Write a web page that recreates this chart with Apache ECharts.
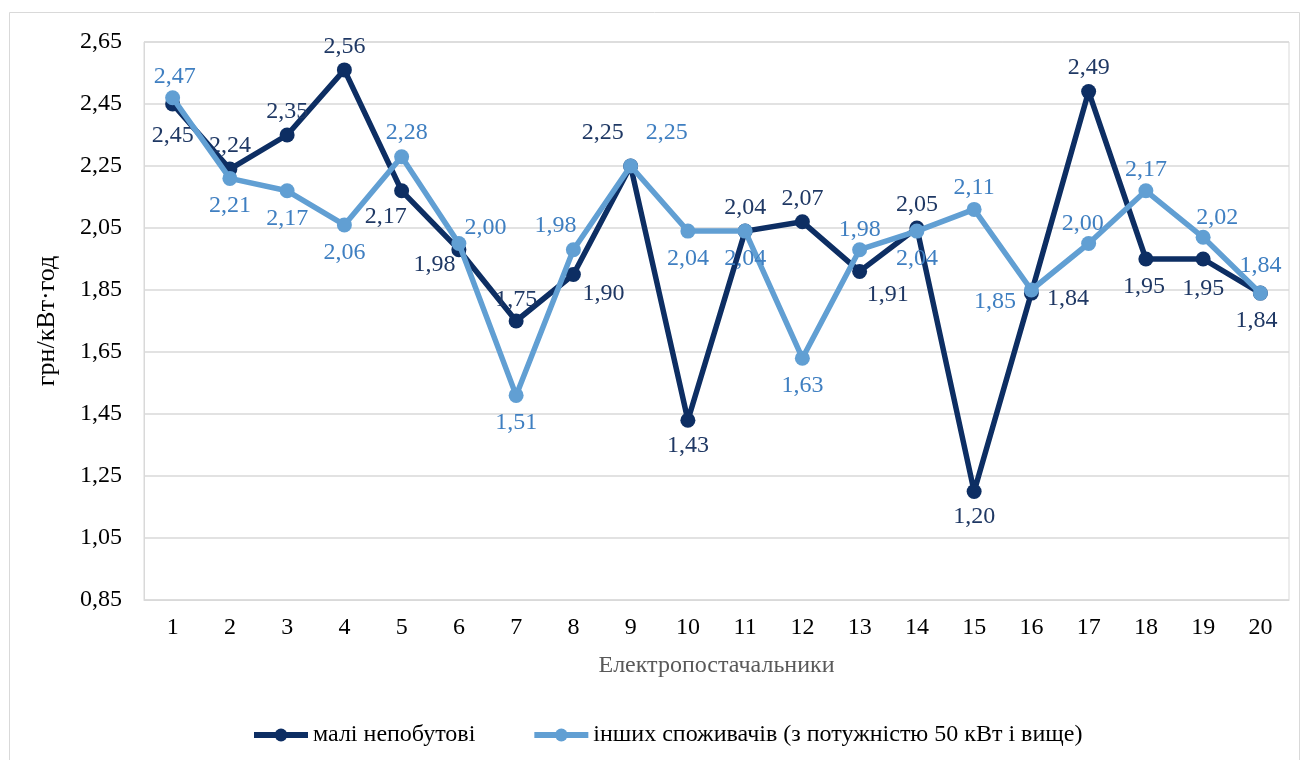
<!DOCTYPE html>
<html>
<head>
<meta charset="utf-8">
<script src="https://cdn.jsdelivr.net/npm/echarts@6/dist/echarts.min.js"></script>
<style>
  html, body { margin: 0; padding: 0; background: #fff; }
  #myChart { width: 1306px; height: 760px; }
</style>
</head>
<body>
<div id="myChart"></div>
<script>
// категорії (електропостачальники)
var categories = ["1", "2", "3", "4", "5", "6", "7", "8", "9", "10",
  "11", "12", "13", "14", "15", "16", "17", "18", "19", "20"];
// малі непобутові
var smallData = [2.45, 2.24, 2.35, 2.56, 2.17, 1.98, 1.75, 1.90, 2.25, 1.43,
  2.04, 2.07, 1.91, 2.05, 1.20, 1.84, 2.49, 1.95, 1.95, 1.84];
// інших споживачів (з потужністю 50 кВт і вище)
var otherData = [2.47, 2.21, 2.17, 2.06, 2.28, 2.00, 1.51, 1.98, 2.25, 2.04,
  2.04, 1.63, 1.98, 2.04, 2.11, 1.85, 2.00, 2.17, 2.02, 1.84];
var seriesNames = ["малі непобутові", "інших споживачів (з потужністю 50 кВт і вище)"];
var yMin = 0.85, yMax = 2.65, yStep = 0.2;

// позиції підписів [position, offsetX, offsetY]
var smallPos = [
  ["bottom", 0, 4], ["top", 0, 4], ["top", 0, 4], ["top", 0, 4], ["bottom", -16, -2],
  ["left", 12, 15], ["top", 0, 6], ["bottom", 30, -8], ["top", -28, -6], ["bottom", 0, -2],
  ["top", 0, 4], ["top", 0, 4], ["bottom", 28, -4], ["top", 0, 4], ["bottom", 0, -2],
  ["right", 0, 6], ["top", 0, 4], ["bottom", -2, 0], ["bottom", 0, 2], ["bottom", -4, 0]
];
var otherPos = [
  ["top", 2, 6], ["bottom", 0, 0], ["bottom", 0, 0], ["bottom", 0, 0], ["top", 5, 4],
  ["right", -10, -16], ["bottom", 0, 0], ["top", -18, 4], ["top", 36, -6], ["bottom", 0, 0],
  ["bottom", 0, 0], ["bottom", 0, 0], ["top", 0, 8], ["bottom", 0, 0], ["top", 0, 6],
  ["left", 0, 12], ["top", -6, 8], ["top", 0, 6], ["top", 14, 8], ["top", 0, 0]
];

var serif = "Liberation Serif";

function fmt(v) {
  return v.toFixed(2).replace(".", ",");
}

function buildData(values, pos, color) {
  return values.map(function (v, i) {
    return {
      value: v,
      label: {
        show: true,
        position: pos[i][0],
        offset: [pos[i][1], pos[i][2]],
        color: color
      }
    };
  });
}

var myChart = echarts.init(document.getElementById("myChart"));

var option = {
  backgroundColor: "#fff",
  textStyle: { fontFamily: serif },
  graphic: [
    {
      type: "rect",
      shape: { x: 9.5, y: 12.5, width: 1290, height: 760 },
      style: { fill: "none", stroke: "#d9d9d9", lineWidth: 1 },
      silent: true
    }
  ],
  grid: {
    left: 144,
    right: 17,
    top: 42,
    bottom: 160,
    show: true,
    borderColor: "#d9d9d9",
    borderWidth: 1
  },
  legend: {
    left: 246,
    top: 718,
    itemWidth: 54,
    itemHeight: 16,
    itemGap: 56,
    lineStyle: { width: 6 },
    textStyle: { fontSize: 24, color: "#000", fontFamily: serif },
    data: seriesNames
  },
  xAxis: {
    type: "category",
    data: categories,
    boundaryGap: true,
    name: "Електропостачальники",
    nameLocation: "middle",
    nameGap: 54,
    nameTextStyle: { fontSize: 24, color: "#595959" },
    axisLine: { show: true, lineStyle: { color: "#d9d9d9", width: 1 } },
    axisTick: { show: false },
    axisLabel: { fontSize: 24, color: "#000", margin: 16 }
  },
  yAxis: {
    type: "value",
    min: yMin,
    max: yMax,
    interval: yStep,
    name: "грн/кВт·год",
    nameLocation: "middle",
    nameGap: 84,
    nameRotate: 90,
    nameTextStyle: { fontSize: 26, color: "#000" },
    axisLine: { show: true, lineStyle: { color: "#d9d9d9" } },
    axisTick: { show: false },
    axisLabel: {
      fontSize: 24,
      color: "#000",
      margin: 22,
      formatter: function (v) { return fmt(v); }
    },
    splitLine: { show: true, lineStyle: { color: "#d9d9d9", width: 1.5 } }
  },
  series: [
    {
      name: seriesNames[0],
      type: "line",
      data: buildData(smallData, smallPos, "#1f3864"),
      color: "#0d2e63",
      symbol: "circle",
      symbolSize: 15,
      lineStyle: { width: 5.5, color: "#0d2e63" },
      itemStyle: { color: "#0d2e63" },
      label: {
        fontSize: 24,
        distance: 8,
        formatter: function (p) { return fmt(p.value); }
      },
      z: 2
    },
    {
      name: seriesNames[1],
      type: "line",
      data: buildData(otherData, otherPos, "#3f7fc1"),
      color: "#619fd3",
      symbol: "circle",
      symbolSize: 15,
      lineStyle: { width: 5.5, color: "#619fd3" },
      itemStyle: { color: "#619fd3" },
      label: {
        fontSize: 24,
        distance: 8,
        formatter: function (p) { return fmt(p.value); }
      },
      z: 3
    }
  ]
};

myChart.setOption(option);
</script>
</body>
</html>
